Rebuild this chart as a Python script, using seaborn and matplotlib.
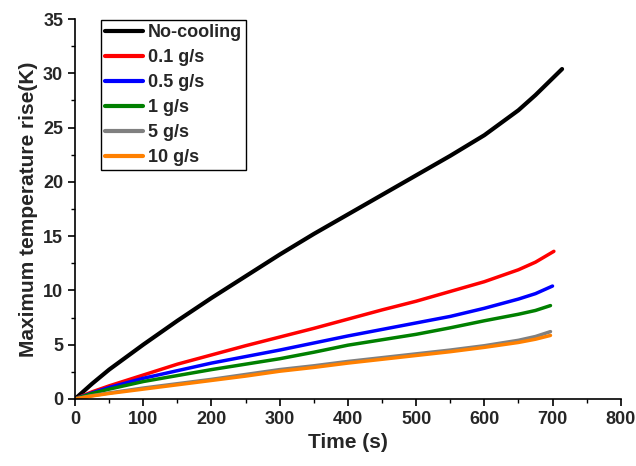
import pandas as pd
import seaborn as sns
import matplotlib.pyplot as plt

# time (s) and maximum temperature rise (K)
t_std = [0, 25, 50, 100, 150, 200, 250, 300, 350, 400, 450, 500, 550, 600, 650, 675]

t_none = t_std + [714]
no_cooling = [0, 1.4, 2.7, 5.0, 7.2, 9.3, 11.3, 13.3, 15.2, 17.0, 18.8, 20.6, 22.4, 24.3, 26.6, 28.0, 30.4]

t_01 = t_std + [702]
g01 = [0, 0.65, 1.2, 2.2, 3.2, 4.05, 4.9, 5.7, 6.5, 7.35, 8.2, 9.0, 9.9, 10.8, 11.9, 12.6, 13.6]

t_05 = t_std + [700]
g05 = [0, 0.55, 1.05, 1.9, 2.6, 3.3, 3.9, 4.5, 5.15, 5.8, 6.4, 7.0, 7.6, 8.35, 9.2, 9.7, 10.4]

t_1 = t_std + [697]
g1 = [0, 0.5, 0.9, 1.6, 2.15, 2.7, 3.2, 3.7, 4.3, 4.95, 5.45, 5.95, 6.55, 7.2, 7.8, 8.15, 8.6]

t_5 = t_std + [697]
g5 = [0, 0.3, 0.55, 1.0, 1.4, 1.8, 2.25, 2.7, 3.05, 3.45, 3.8, 4.15, 4.5, 4.9, 5.4, 5.75, 6.2]

t_10 = t_std + [697]
g10 = [0, 0.27, 0.5, 0.9, 1.3, 1.7, 2.1, 2.55, 2.9, 3.3, 3.65, 4.0, 4.35, 4.75, 5.2, 5.5, 5.85]

labels = ['No-cooling', '0.1 g/s', '0.5 g/s', '1 g/s', '5 g/s', '10 g/s']
colors = ['black', '#ff0000', '#0000ff', '#008000', '#808080', '#ff8000']


def build_df() -> pd.DataFrame:
    parts = []
    for lab, t, v in zip(labels,
                         [t_none, t_01, t_05, t_1, t_5, t_10],
                         [no_cooling, g01, g05, g1, g5, g10]):
        parts.append(pd.DataFrame({'time': t, 'rise': v, 'case': lab}))
    return pd.concat(parts, ignore_index = True)


def main() -> None:
    sns.set_style('ticks')
    plt.rcParams['font.family'] = ['Liberation Sans', 'DejaVu Sans']
    plt.rcParams['font.weight'] = 'bold'

    df = build_df()

    fig = plt.figure(figsize = (6.36, 4.66), dpi = 100)
    ax = fig.add_axes([0.118, 0.144, 0.858, 0.815])

    sns.lineplot(
        data = df,
        x = 'time',
        y = 'rise',
        hue = 'case',
        hue_order = labels,
        palette = dict(zip(labels, colors)),
        linewidth = 2.5,
        ax = ax
    )
    ax.lines[0].set_linewidth(3)

    ax.set_xlim(0, 800)
    ax.set_ylim(0, 35)
    ax.set_xticks(range(0, 801, 100))
    ax.set_yticks(range(0, 36, 5))
    ax.set_xticks(range(50, 800, 100), minor = True)
    ax.set_yticks([2.5 + 5 * i for i in range(7)], minor = True)
    ax.tick_params(which = 'major', direction = 'out', length = 5, width = 1.2,
                   labelsize = 13, color = 'black')
    ax.tick_params(which = 'minor', direction = 'out', length = 3, width = 1.0,
                   color = 'black')
    for lab in ax.get_xticklabels() + ax.get_yticklabels():
        lab.set_fontweight('bold')

    sns.despine(ax = ax)
    for s in ['left', 'bottom']:
        ax.spines[s].set_linewidth(1.2)
        ax.spines[s].set_color('black')

    ax.set_xlabel('Time (s)', fontsize = 15, fontweight = 'bold')
    ax.set_ylabel('Maximum temperature rise(K)', fontsize = 15, fontweight = 'bold')

    leg = ax.legend(loc = 'upper left', bbox_to_anchor = (0.048, 0.997),
                    frameon = True, fancybox = False, framealpha = 1,
                    edgecolor = 'black', fontsize = 13, handlelength = 2.1,
                    handletextpad = 0.3, labelspacing = 0.45,
                    borderpad = 0.2, borderaxespad = 0)
    leg.get_frame().set_linewidth(1.0)
    for txt in leg.get_texts():
        txt.set_fontweight('bold')
    for line in leg.get_lines():
        line.set_linewidth(3)

    plt.savefig('out.png', dpi = 100)


if __name__ == '__main__':
    main()
